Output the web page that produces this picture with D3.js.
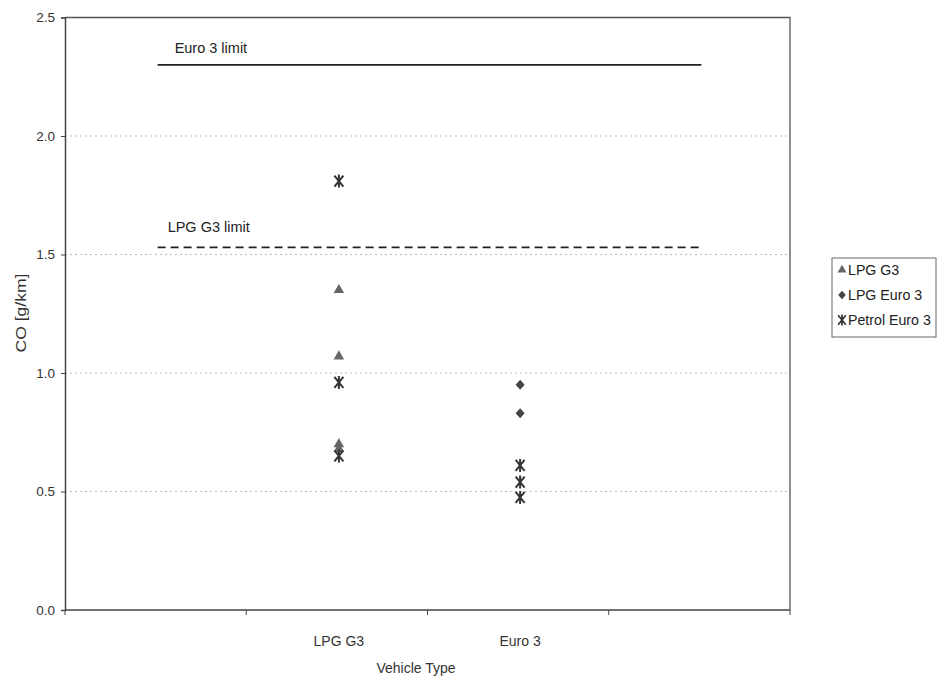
<!DOCTYPE html>
<html><head><meta charset="utf-8">
<script src="https://cdn.jsdelivr.net/npm/d3@7"></script>
<style>body{margin:0;background:#fff;} text{font-family:"Liberation Sans",Arial,sans-serif;}</style>
</head><body>
<svg id="c" width="945" height="684"></svg>
<script>
const categories = ["", "LPG G3", "Euro 3", " "];
const yTicks = [0, 0.5, 1.0, 1.5, 2.0, 2.5];
const lpgG3 = [ {cat: "LPG G3", v: 1.35}, {cat: "LPG G3", v: 1.07}, {cat: "LPG G3", v: 0.70}, {cat: "LPG G3", v: 0.68} ];
const lpgEuro3 = [ {cat: "Euro 3", v: 0.95}, {cat: "Euro 3", v: 0.83} ];
const petrolEuro3 = [ {cat: "LPG G3", v: 1.81}, {cat: "LPG G3", v: 0.96}, {cat: "LPG G3", v: 0.65},
                      {cat: "Euro 3", v: 0.61}, {cat: "Euro 3", v: 0.54}, {cat: "Euro 3", v: 0.475} ];
const euro3Limit = [2.3, 2.3, 2.3, 2.3];
const lpgG3Limit = [1.53, 1.53, 1.53, 1.53];
const legendNames = ["LPG G3", "LPG Euro 3", "Petrol Euro 3"];

const svg = d3.select("#c");
const m = {left: 65, right: 790, top: 17.5, bottom: 610};
const x = d3.scaleBand().domain(categories).range([m.left, m.right]);
const xc = c => x(c) + x.bandwidth() / 2 + 2;
const y = d3.scaleLinear().domain([0, 2.5]).range([m.bottom, m.top]);

// gridlines
svg.append("g").selectAll("line").data(yTicks.filter(t => t > 0 && t < 2.5)).join("line")
  .attr("x1", m.left).attr("x2", m.right).attr("y1", d => y(d)).attr("y2", d => y(d))
  .attr("stroke", "#bbb").attr("stroke-width", 1).attr("stroke-dasharray", "2,3");

// frame top/right
svg.append("path").attr("d", `M${m.left},${m.top}H${m.right}V${m.bottom}`)
  .attr("fill", "none").attr("stroke", "#555").attr("stroke-width", 1.3);

// y axis
const yAxis = svg.append("g").attr("transform", `translate(${m.left},0)`)
  .call(d3.axisLeft(y).tickValues(yTicks).tickFormat(d3.format(".1f")).tickSize(4).tickPadding(6));
yAxis.select(".domain").attr("stroke", "#444").attr("stroke-width", 1.5);
yAxis.selectAll(".tick line").attr("stroke", "#444");
yAxis.selectAll("text").attr("font-size", 13.5).attr("fill", "#333").attr("font-family", "Liberation Sans, Arial, sans-serif");

// x axis with ticks between categories
const xAxis = svg.append("g").attr("transform", `translate(0,${m.bottom})`);
xAxis.append("line").attr("x1", m.left).attr("x2", m.right).attr("stroke", "#444").attr("stroke-width", 1.5);
const bounds = categories.map(c => x(c)).concat([x(categories[categories.length - 1]) + x.bandwidth()]);
xAxis.selectAll(".tk").data(bounds).join("line").attr("class", "tk")
  .attr("x1", d => d).attr("x2", d => d).attr("y1", 0).attr("y2", 5).attr("stroke", "#444");
xAxis.selectAll(".lbl").data(categories).join("text").attr("class", "lbl")
  .attr("x", d => xc(d)).attr("y", 36).attr("text-anchor", "middle")
  .attr("font-size", 14).attr("fill", "#333").text(d => d.trim());

// axis titles
svg.append("text").attr("x", 416).attr("y", 673).attr("text-anchor", "middle")
  .attr("font-size", 14).attr("fill", "#333").text("Vehicle Type");
svg.append("text").attr("transform", `translate(26,313) rotate(-90)`)
  .attr("text-anchor", "middle").attr("font-size", 14).attr("fill", "#333")
  .attr("textLength", 79).attr("lengthAdjust", "spacingAndGlyphs").text("CO [g/km]");

// limit lines
const line = d3.line().x((d, i) => xc(categories[i])).y(d => y(d));
svg.append("path").attr("d", line(euro3Limit)).attr("fill", "none").attr("stroke", "#222").attr("stroke-width", 1.6);
svg.append("path").attr("d", line(lpgG3Limit)).attr("fill", "none").attr("stroke", "#222").attr("stroke-width", 1.8)
  .attr("stroke-dasharray", "8,5");
svg.append("text").attr("x", xc(categories[0]) + 17).attr("y", y(euro3Limit[0]) - 12)
  .attr("font-size", 14.5).attr("fill", "#222").text("Euro 3 limit");
svg.append("text").attr("x", xc(categories[0]) + 10).attr("y", y(lpgG3Limit[0]) - 15)
  .attr("font-size", 14.5).attr("fill", "#222").text("LPG G3 limit");

// markers
const triPath = d3.symbol().type(d3.symbolTriangle).size(48)();
const diaPath = "M0,-5L4.5,0L0,5L-4.5,0Z";
const starPath = "M-4.5,-5.5L4.5,5.5M4.5,-5.5L-4.5,5.5M0,-6.5L0,6.5";
function drawMarker(g, type) {
  if (type === 0) g.append("path").attr("d", triPath).attr("fill", "#666");
  else if (type === 1) g.append("path").attr("d", diaPath).attr("fill", "#444");
  else g.append("path").attr("d", starPath).attr("fill", "none").attr("stroke", "#333").attr("stroke-width", 2);
}
[[lpgG3, 0], [lpgEuro3, 1], [petrolEuro3, 2]].forEach(([data, t]) => {
  data.forEach(d => {
    const g = svg.append("g").attr("transform", `translate(${xc(d.cat)},${y(d.v)})`);
    drawMarker(g, t);
  });
});

// legend
const lg = svg.append("g").attr("transform", "translate(832,258)");
lg.append("rect").attr("width", 104).attr("height", 79).attr("fill", "#fff").attr("stroke", "#666").attr("stroke-width", 1);
legendNames.forEach((n, i) => {
  const g = lg.append("g").attr("transform", `translate(10,${12 + i * 25})`);
  const mk = g.append("g").attr("transform", "scale(0.85)");
  drawMarker(mk, i);
  g.append("text").attr("x", 6).attr("y", 5).attr("font-size", 14.2).attr("fill", "#222").text(n);
});
</script>
</body></html>
